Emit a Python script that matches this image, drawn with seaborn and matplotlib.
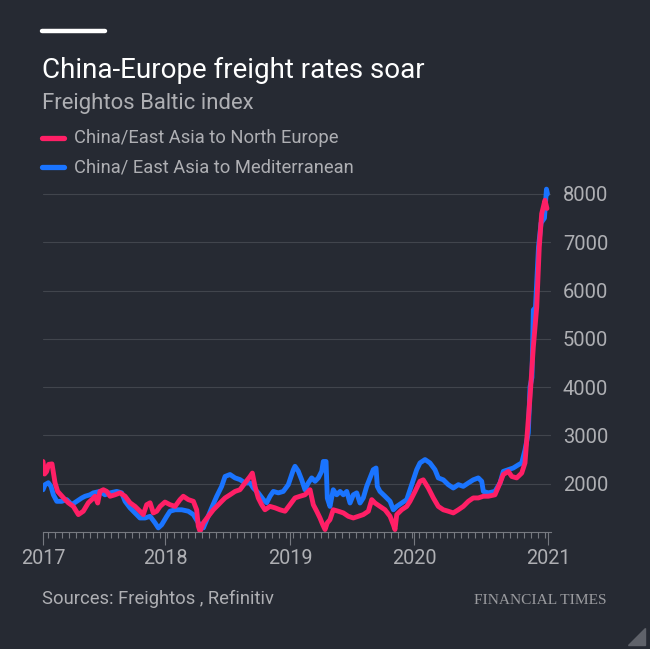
import matplotlib
matplotlib.use("Agg")
import matplotlib.pyplot as plt
from matplotlib.ticker import MultipleLocator, FixedLocator
from matplotlib.patches import Polygon
import seaborn as sns
import pandas as pd

# ---- data (decimal year, index value) ----
north_t = [2017.000, 2017.012, 2017.028, 2017.044, 2017.071, 2017.095, 2017.116, 2017.161,
           2017.200, 2017.240, 2017.280, 2017.319, 2017.359, 2017.386, 2017.412, 2017.433,
           2017.451, 2017.478, 2017.505, 2017.531, 2017.570, 2017.610, 2017.650, 2017.689,
           2017.729, 2017.768, 2017.794, 2017.821, 2017.848, 2017.874, 2017.901, 2017.927,
           2017.966, 2018.006, 2018.046, 2018.085, 2018.111, 2018.151, 2018.191, 2018.217,
           2018.230, 2018.244, 2018.270, 2018.309, 2018.349, 2018.389, 2018.415, 2018.442,
           2018.481, 2018.521, 2018.560, 2018.600, 2018.640, 2018.658, 2018.679, 2018.705,
           2018.732, 2018.758, 2018.798, 2018.838, 2018.877, 2018.917, 2018.956, 2018.996,
           2019.036, 2019.075, 2019.115, 2019.141, 2019.168, 2019.194, 2019.216, 2019.234,
           2019.252, 2019.273, 2019.299, 2019.339, 2019.379, 2019.418, 2019.458, 2019.498,
           2019.537, 2019.577, 2019.604, 2019.630, 2019.669, 2019.709, 2019.749, 2019.775,
           2019.788, 2019.802, 2019.841, 2019.881, 2019.907, 2019.947, 2019.986, 2020.012,
           2020.052, 2020.092, 2020.131, 2020.171, 2020.210, 2020.250, 2020.290, 2020.329,
           2020.369, 2020.408, 2020.448, 2020.488, 2020.527, 2020.580, 2020.620, 2020.646,
           2020.686, 2020.713, 2020.752, 2020.792, 2020.818, 2020.834, 2020.858, 2020.884,
           2020.911, 2020.931, 2020.950, 2020.976, 2020.992]
north_v = [2460, 2200, 2250, 2400, 2410, 2020, 1840, 1710,
           1605, 1530, 1360, 1430, 1605, 1670, 1740, 1600,
           1840, 1875, 1840, 1740, 1770, 1810, 1740, 1605,
           1530, 1430, 1360, 1565, 1605, 1395, 1430, 1530,
           1620, 1565, 1530, 1670, 1740, 1670, 1635, 1460,
           1120, 1015, 1190, 1325, 1460, 1565, 1635, 1705,
           1770, 1840, 1875, 2015, 2150, 2220, 1945, 1705,
           1565, 1460, 1530, 1500, 1460, 1430, 1565, 1705,
           1740, 1770, 1875, 1565, 1430, 1290, 1150, 1050,
           1190, 1255, 1460, 1430, 1395, 1325, 1290, 1325,
           1360, 1430, 1670, 1600, 1530, 1460, 1325, 1150,
           1050, 1360, 1460, 1530, 1635, 1840, 2050, 2080,
           1910, 1705, 1530, 1460, 1430, 1395, 1460, 1530,
           1635, 1705, 1705, 1740, 1740, 1770, 2015, 2190,
           2255, 2150, 2120, 2220, 2430, 2980, 3800, 4830,
           5660, 6900, 7590, 7870, 7700]

med_t = [2017.000, 2017.016, 2017.042, 2017.063, 2017.082, 2017.109, 2017.148, 2017.188,
         2017.227, 2017.267, 2017.307, 2017.333, 2017.372, 2017.398, 2017.451, 2017.491,
         2017.531, 2017.584, 2017.623, 2017.650, 2017.689, 2017.729, 2017.768, 2017.808,
         2017.848, 2017.887, 2017.913, 2017.940, 2017.980, 2018.006, 2018.046, 2018.099,
         2018.151, 2018.191, 2018.230, 2018.270, 2018.297, 2018.336, 2018.376, 2018.415,
         2018.442, 2018.481, 2018.521, 2018.560, 2018.600, 2018.640, 2018.666, 2018.705,
         2018.745, 2018.772, 2018.798, 2018.824, 2018.864, 2018.903, 2018.943, 2018.983,
         2018.996, 2019.022, 2019.049, 2019.075, 2019.101, 2019.128, 2019.155, 2019.181,
         2019.208, 2019.220, 2019.242, 2019.252, 2019.273, 2019.299, 2019.326, 2019.353,
         2019.379, 2019.406, 2019.432, 2019.458, 2019.485, 2019.511, 2019.537, 2019.564,
         2019.590, 2019.616, 2019.638, 2019.648, 2019.669, 2019.709, 2019.749, 2019.775,
         2019.802, 2019.841, 2019.881, 2019.907, 2019.933, 2019.960, 2019.986, 2020.026,
         2020.065, 2020.105, 2020.131, 2020.171, 2020.210, 2020.250, 2020.290, 2020.329,
         2020.369, 2020.408, 2020.448, 2020.475, 2020.488, 2020.527, 2020.580, 2020.620,
         2020.646, 2020.686, 2020.725, 2020.765, 2020.792, 2020.818, 2020.844, 2020.858,
         2020.873, 2020.884, 2020.901, 2020.925, 2020.945, 2020.972, 2020.988, 2020.996]
med_v = [1875, 1980, 2020, 1945, 1770, 1635, 1635, 1670,
         1565, 1635, 1705, 1740, 1770, 1810, 1840, 1770,
         1810, 1840, 1810, 1635, 1500, 1395, 1290, 1290,
         1325, 1190, 1085, 1150, 1325, 1430, 1460, 1460,
         1430, 1360, 1190, 1085, 1255, 1500, 1740, 1945,
         2150, 2190, 2120, 2085, 2015, 2015, 1910, 1810,
         1670, 1605, 1740, 1840, 1810, 1840, 1980, 2290,
         2360, 2260, 2080, 1875, 2015, 2120, 2050, 2120,
         2260, 2460, 2460, 1700, 1530, 1875, 1770, 1840,
         1770, 1840, 1600, 1770, 1810, 1600, 1705, 1945,
         2120, 2290, 2325, 1945, 1840, 1740, 1635, 1460,
         1530, 1600, 1670, 1875, 2085, 2290, 2430, 2500,
         2430, 2290, 2120, 2080, 1980, 1910, 1980, 1945,
         2015, 2080, 2120, 2050, 1840, 1810, 1840, 2015,
         2255, 2290, 2325, 2390, 2430, 2700, 3050, 4010,
         4200, 5600, 5650, 6900, 7400, 7500, 8100, 8000]

series_names = ["China/East Asia to North Europe", "China/ East Asia to Mediterranean"]
year_labels = ["2017", "2018", "2019", "2020", "2021"]
year_tick_pos = [2017.0, 2017.966, 2018.956, 2019.939, 2021.0]
y_ticks = [2000, 3000, 4000, 5000, 6000, 7000, 8000]

BG = "#262a33"
RED = "#ff1f66"
BLUE = "#1a74ff"
GRID = "#41454d"
TXT = "#aeafb3"
TICK = "#767980"

sns.set_theme(style="dark", rc={"axes.facecolor": BG, "figure.facecolor": BG})
plt.rcParams["font.family"] = ["Roboto", "DejaVu Sans"]

df = pd.concat([
    pd.DataFrame({"t": north_t, "v": north_v, "s": series_names[0]}),
    pd.DataFrame({"t": med_t, "v": med_v, "s": series_names[1]}),
])

fig = plt.figure(figsize=(6.5, 6.49), dpi=100)
ax = fig.add_axes([0.0662, 0.1803, 0.7815, 0.5357])
ax.set_facecolor(BG)

sns.lineplot(data=df[df.s == series_names[1]], x="t", y="v", color=BLUE, lw=3.5,
             ax=ax, legend=False, estimator=None, sort=False)
sns.lineplot(data=df[df.s == series_names[0]], x="t", y="v", color=RED, lw=3.5,
             ax=ax, legend=False, estimator=None, sort=False)

ax.set_xlim(2017.0, 2021.024)
ax.set_ylim(1000, 8200)
ax.set_xlabel("")
ax.set_ylabel("")

ax.yaxis.tick_right()
ax.yaxis.set_major_locator(FixedLocator(y_ticks))
ax.set_yticklabels([str(v) for v in y_ticks])
ax.tick_params(axis="y", length=0, pad=8.5, labelsize=14.5, labelcolor=TXT)
ax.grid(axis="y", color=GRID, lw=0.8)
ax.grid(axis="x", visible=False)

ax.xaxis.set_major_locator(FixedLocator(year_tick_pos))
ax.set_xticklabels(year_labels)
ax.xaxis.set_minor_locator(MultipleLocator(0.0555))
ax.tick_params(axis="x", which="major", length=9, width=0.8, color=TICK,
               direction="out", pad=3, labelsize=14.3, labelcolor=TXT, bottom=True)
ax.tick_params(axis="x", which="minor", length=4.5, width=0.8, color=TICK,
               direction="out", bottom=True)

for side in ["top", "right", "left"]:
    ax.spines[side].set_visible(False)
ax.spines["bottom"].set_color(TICK)
ax.spines["bottom"].set_linewidth(0.8)

# header
fig.add_artist(plt.Line2D([42 / 650, 105 / 650], [1 - 31 / 649, 1 - 31 / 649],
                          color="white", lw=3.2, transform=fig.transFigure))
fig.text(42 / 650, 1 - 70 / 649, "China-Europe freight rates soar", color="white",
         fontsize=20, va="center", ha="left")
fig.text(42 / 650, 1 - 104 / 649, "Freightos Baltic index", color=TXT,
         fontsize=15.9, va="center", ha="left")
for i, (name, col) in enumerate(zip(series_names, [RED, BLUE])):
    y = 1 - (138 + 29 * i) / 649
    fig.add_artist(plt.Line2D([42 / 650, 64 / 650], [y, y], color=col, lw=3.8,
                              transform=fig.transFigure))
    fig.text(74 / 650, y, name, color=TXT, fontsize=13.2, va="center", ha="left")

# footer
fig.text(42 / 650, 1 - 599 / 649, "Sources: Freightos , Refinitiv", color=TXT,
         fontsize=13.2, va="center", ha="left")
fig.text(607 / 650, 1 - 600 / 649, "FINANCIAL TIMES", color="#9a9b9f",
         fontsize=11.1, va="center", ha="right", family=["Liberation Serif", "DejaVu Serif"])
fig.add_artist(Polygon([[645 / 650, 1 - 628 / 649], [645 / 650, 1 - 645 / 649],
                        [628 / 650, 1 - 645 / 649]], closed=True, color="#5f626a",
                       transform=fig.transFigure))

fig.savefig("out.png", dpi=100, facecolor=BG)
